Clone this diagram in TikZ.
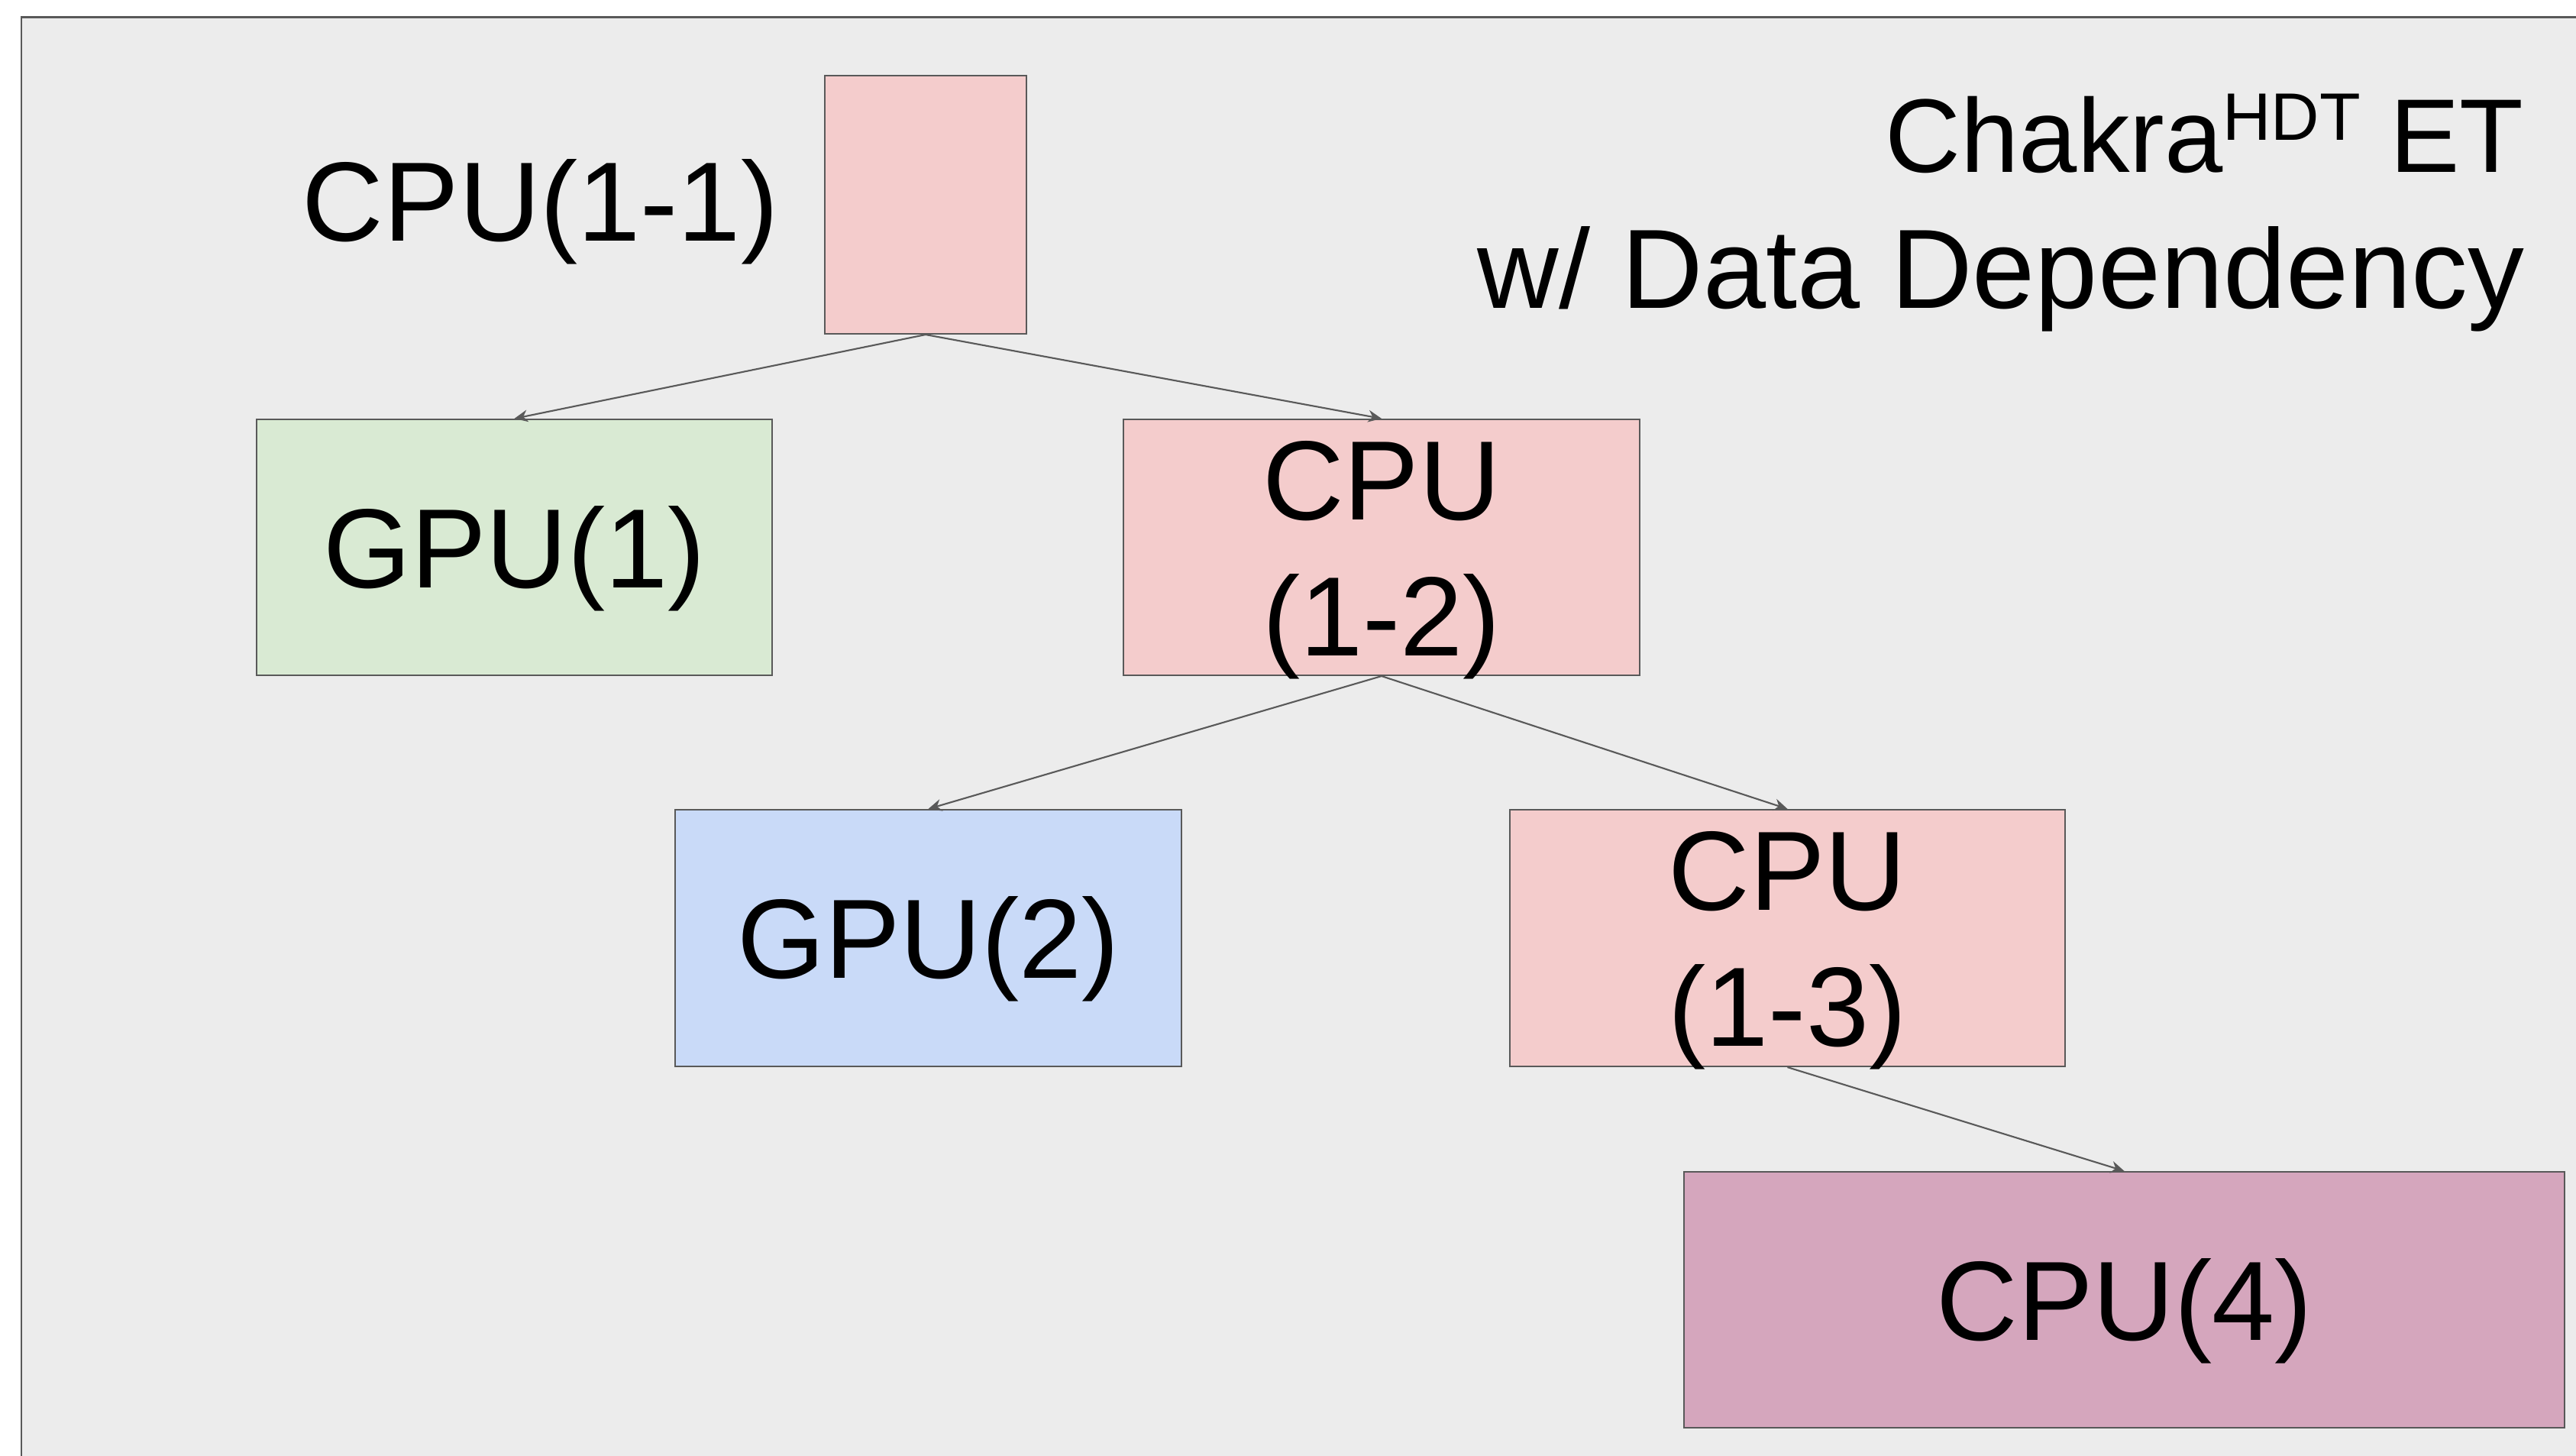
\documentclass[tikz,border=0pt]{standalone}
\usepackage{fontspec}
\setmainfont{Liberation Sans}
\usetikzlibrary{arrows.meta}

\definecolor{cpupink}{HTML}{F4CCCC}
\definecolor{gpugreen}{HTML}{D9EAD3}
\definecolor{gpublue}{HTML}{C9DAF8}
\definecolor{cpumauve}{HTML}{D5A6BD}
\definecolor{edgegray}{HTML}{595959}
\definecolor{slidegray}{HTML}{ECECEC}

\begin{document}
\begin{tikzpicture}[>={Stealth[length=5pt,width=4.5pt]},
    bigtext/.style={inner sep=0pt, font=\fontsize{42}{50.6}\selectfont},
    box/.style={bigtext, draw=edgegray, line width=0.6pt, align=center,
      text height=30pt, text depth=0pt},
    twoline/.style={text height=80.6pt},
    dep/.style={->, draw=edgegray, line width=0.6pt}]
    \useasboundingbox (0,0) rectangle (33.73,-19.06);
    \clip (0,0) rectangle (33.73,-19.06);
    \fill[white] (0,0) rectangle (33.73,-19.06);
    \draw[edgegray, fill=slidegray, line width=0.85pt] (0.28,-0.23) rectangle (35,-20);

    % title
    \node[inner sep=0pt, anchor=base east, font=\fontsize{39}{47}\selectfont] (ttl) at (33.05,-2.26)
      {Chakra\raisebox{12pt}{\fontsize{25}{30}\selectfont HDT} ET};
    \node[bigtext, anchor=base east] (ttlsub) at (33.06,-4.04) {w/ Data Dependency};

    % trace nodes
    \node[box, fill=cpupink, minimum width=2.64cm, minimum height=3.38cm] (c11) at (12.12,-2.68) {};
    \node[bigtext, anchor=east, text height=30pt, text depth=0pt] (l11) at (10.20,-2.63) {CPU(1-1)};
    \node[box, fill=gpugreen, minimum width=6.75cm, minimum height=3.35cm] (g1) at (6.735,-7.165) {GPU(1)};
    \node[box, twoline, fill=cpupink, minimum width=6.76cm, minimum height=3.35cm] (c12) at (18.09,-7.165) {CPU\\(1-2)};
    \node[box, fill=gpublue, minimum width=6.63cm, minimum height=3.36cm] (g2) at (12.155,-12.28) {GPU(2)};
    \node[box, twoline, fill=cpupink, minimum width=7.27cm, minimum height=3.36cm] (c13) at (23.405,-12.28) {CPU\\(1-3)};
    \node[box, fill=cpumauve, minimum width=11.53cm, minimum height=3.35cm] (c4) at (27.815,-17.015) {CPU(4)};

    % dependencies
    \draw[dep] (c11.south) -- (g1.north);
    \draw[dep] (c11.south) -- (c12.north);
    \draw[dep] (c12.south) -- (g2.north);
    \draw[dep] (c12.south) -- (c13.north);
    \draw[dep] (c13.south) -- (c4.north);
\end{tikzpicture}
\end{document}
